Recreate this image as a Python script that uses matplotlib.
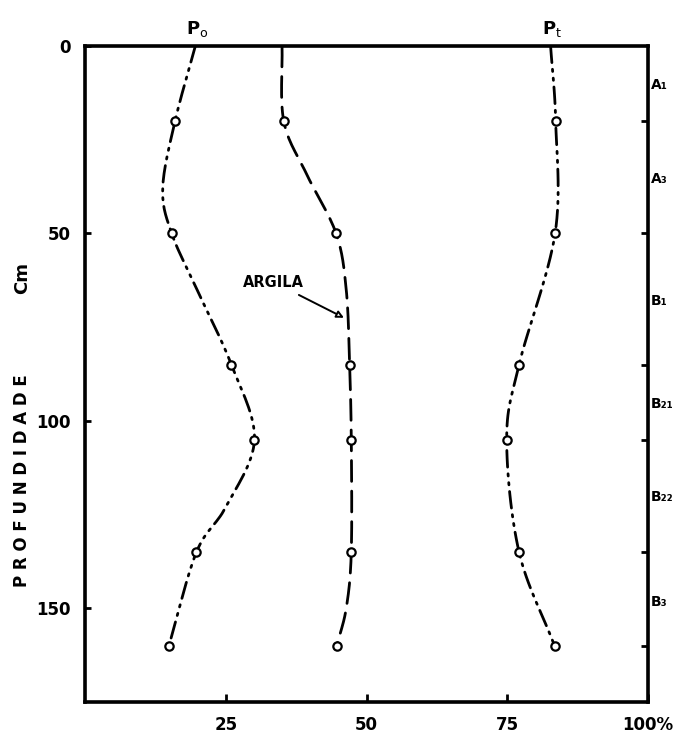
import numpy as np
import matplotlib
matplotlib.use("Agg")
from matplotlib import pyplot as plt

# sample depths (cm) where the circles are drawn
depths = [20, 50, 85, 105, 135, 160]
po = [16.0, 15.4, 26.0, 30.1, 19.8, 14.9]
argila = [35.3, 44.6, 47.0, 47.3, 47.3, 44.7]
pt = [83.6, 83.5, 77.1, 74.9, 77.1, 83.4]

# traced line shapes (incl. the top at 0 cm)
po_depth = [0, 20, 38, 50, 65, 85, 105, 123, 135, 160]
po_line = [19.6, 16.0, 13.8, 15.4, 19.9, 26.0, 30.1, 25.0, 19.8, 14.9]
arg_depth = [0, 20, 34, 50, 65, 85, 105, 135, 150, 160]
arg_line = [35.0, 35.3, 39.3, 44.6, 46.4, 47.0, 47.3, 47.3, 46.4, 44.7]
pt_depth = [0, 20, 50, 85, 105, 135, 160]
pt_line = [82.7, 83.6, 83.5, 77.1, 74.9, 77.1, 83.4]

# soil horizons on the right side
horizon_bounds = [20, 50, 85, 105, 135, 160]
horizon_mid = [10, 35, 67.5, 95, 120, 148]
horizon_names = ["A₁", "A₃", "B₁", "B₂₁", "B₂₂", "B₃"]

x_ticks = [25, 50, 75, 100]
x_labels = ["25", "50", "75", "100%"]
y_ticks = [0, 50, 100, 150]


def smooth(xs, ys, n=16):
    # catmull-rom through the traced points, just for drawing
    p = np.column_stack([xs, ys]).astype(float)
    p = np.vstack([2 * p[0] - p[1], p, 2 * p[-1] - p[-2]])
    out = []
    t = np.linspace(0, 1, n, endpoint=False)[:, None]
    for i in range(1, len(p) - 2):
        p0, p1, p2, p3 = p[i - 1], p[i], p[i + 1], p[i + 2]
        seg = 0.5 * ((2 * p1) + (-p0 + p2) * t
                     + (2 * p0 - 5 * p1 + 4 * p2 - p3) * t ** 2
                     + (-p0 + 3 * p1 - 3 * p2 + p3) * t ** 3)
        out.append(seg)
    out.append(p[-2][None, :])
    out = np.vstack(out)
    return out[:, 0], out[:, 1]


fig = plt.figure(figsize=(6.73, 7.43), dpi=100)
ax = fig.add_axes([85 / 673, 1 - 702 / 743, 563 / 673, 656 / 743])

dashdotdot = (6, 2.4, 0.8, 2.4, 0.8, 2.4)
for xs, ys, dash in [(po_line, po_depth, dashdotdot),
                     (arg_line, arg_depth, (7.5, 3.5)),
                     (pt_line, pt_depth, dashdotdot)]:
    sx, sy = smooth(xs, ys)
    ax.plot(sx, sy, color="black", lw=2, dashes=dash,
            solid_capstyle="round", dash_capstyle="round")

for vals in [po, argila, pt]:
    ax.plot(vals, depths, "o", ls="none", ms=6, mfc="white",
            mec="black", mew=1.6, zorder=3)

ax.set_xlim(0, 100)
ax.set_ylim(175, 0)
for s in ax.spines.values():
    s.set_linewidth(2.6)

ax.set_xticks(x_ticks)
ax.set_xticklabels(x_labels)
ax.set_yticks(y_ticks)
ax.tick_params(axis="x", direction="in", length=6, width=2, pad=10,
               labelsize=12)
ax.tick_params(axis="y", direction="in", length=4, width=2, pad=10,
               labelsize=12)
for lab in ax.get_xticklabels() + ax.get_yticklabels():
    lab.set_fontweight("bold")

ax2 = ax.twinx()
ax2.set_ylim(175, 0)
ax2.set_yticks(horizon_bounds)
ax2.set_yticklabels([])
ax2.set_yticks(horizon_mid, minor=True)
ax2.set_yticklabels(horizon_names, minor=True, fontsize=10,
                    fontweight="bold")
ax2.tick_params(axis="y", which="major", direction="in", length=5, width=2)
ax2.tick_params(axis="y", which="minor", length=0, pad=2)

ax.text(20, -2, r"P$_\mathrm{o}$", ha="center", va="bottom", fontsize=13,
        fontweight="bold", clip_on=False)
ax.text(83, -2, r"P$_\mathrm{t}$", ha="center", va="bottom", fontsize=13,
        fontweight="bold", clip_on=False)

ax.annotate("ARGILA", xy=(46.0, 72.5), xytext=(33.5, 63),
            ha="center", va="center", fontsize=10.5, fontweight="bold",
            arrowprops=dict(arrowstyle="-|>", color="black", lw=1.4,
                            shrinkA=4, shrinkB=0, fc="white"))

fig.text(22 / 673, 1 - 481 / 743, "P R O F U N D I D A D E", rotation=90,
         ha="center", va="center", fontsize=12, fontweight="bold")
fig.text(22 / 673, 1 - 278 / 743, "Cm", rotation=90, ha="center",
         va="center", fontsize=13, fontweight="bold")

fig.savefig("out.png", dpi=100)
